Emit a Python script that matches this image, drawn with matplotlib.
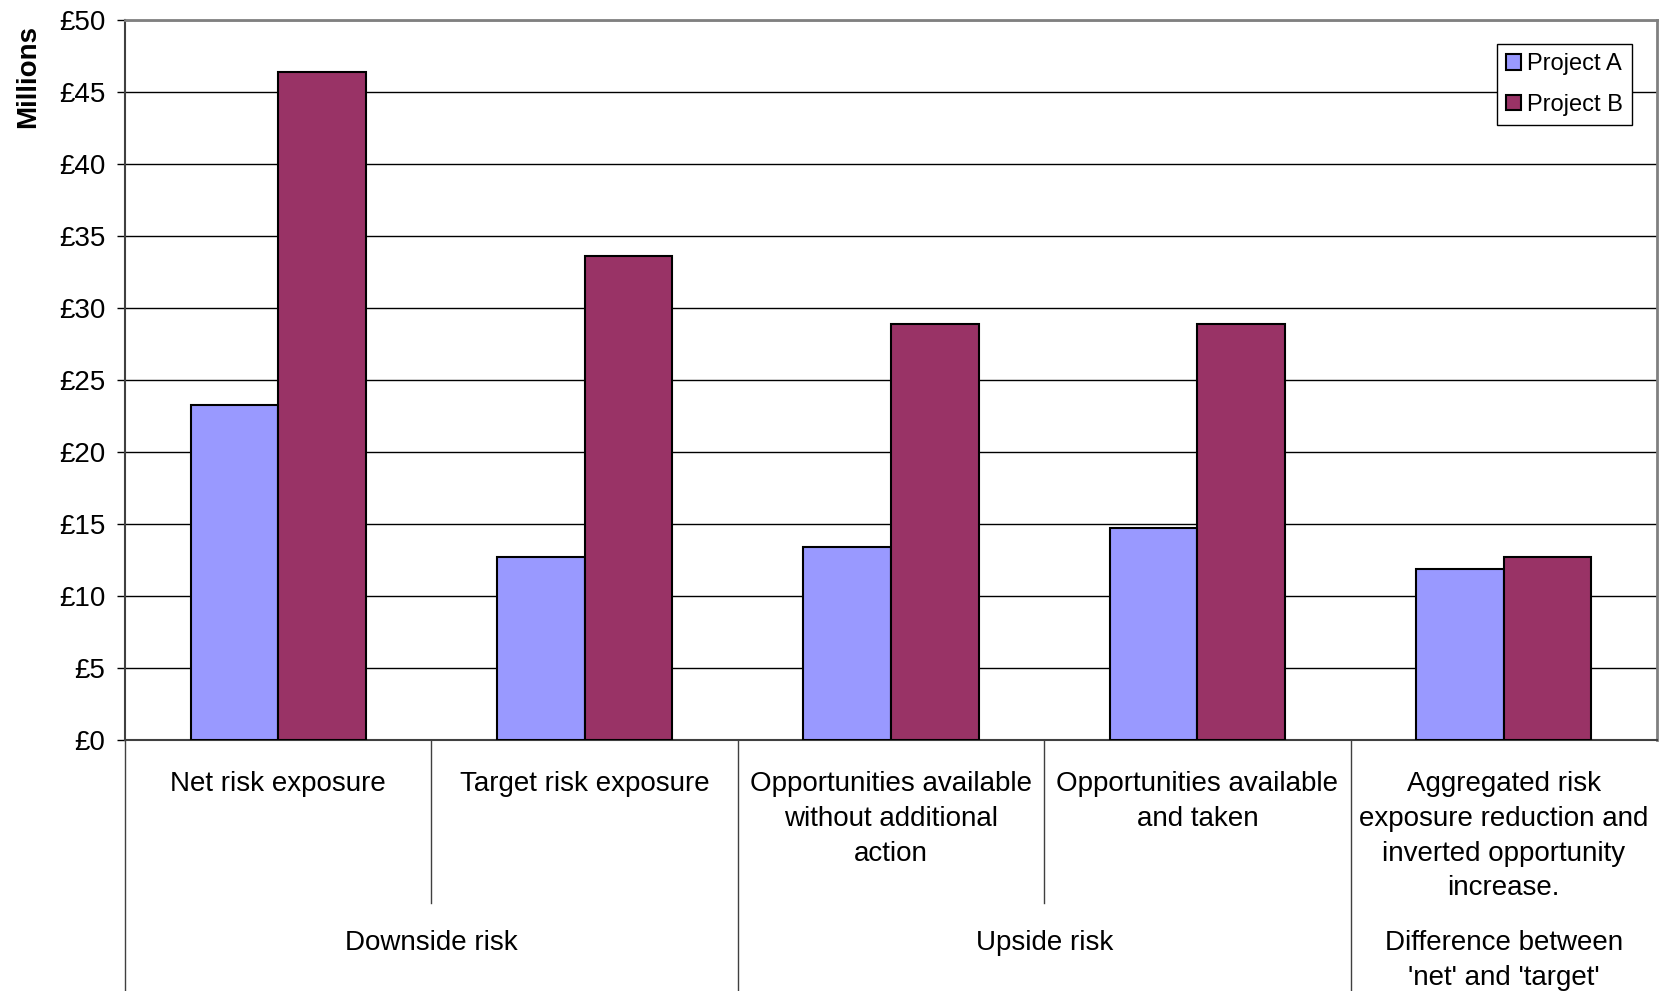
import matplotlib.pyplot as plt
import numpy as np

plt.rcParams['font.family'] = ['Liberation Sans', 'DejaVu Sans']

# Chart data (£ millions)
categories = ['Net risk exposure',
              'Target risk exposure',
              'Opportunities available\nwithout additional\naction',
              'Opportunities available\nand taken',
              'Aggregated risk\nexposure reduction and\ninverted opportunity\nincrease.']
groups = ['Downside risk', 'Upside risk', "Difference between\n'net' and 'target'"]
group_spans = [(0, 1), (2, 3), (4, 4)]
project_a = [23.25, 12.7, 13.4, 14.75, 11.85]
project_b = [46.4, 33.6, 28.9, 28.9, 12.7]
series_names = ['Project A', 'Project B']
yticks = [0, 5, 10, 15, 20, 25, 30, 35, 40, 45, 50]

W, H = 1661, 991
fig = plt.figure(figsize=(W / 100, H / 100), dpi=100)
ax = fig.add_axes([125 / W, (H - 740) / H, 1532 / W, 720 / H])

x = np.arange(len(categories))
width = 1 / 3.5
ax.bar(x - width / 2, project_a, width, color='#9999FF', edgecolor='black',
       linewidth=1.5, label=series_names[0], zorder=3)
ax.bar(x + width / 2, project_b, width, color='#993366', edgecolor='black',
       linewidth=1.5, label=series_names[1], zorder=3)

ax.set_xlim(-0.5, len(categories) - 0.5)
ax.set_ylim(0, 50)
ax.set_yticks(yticks)
ax.set_yticklabels(['£%d' % v for v in yticks], fontsize=20)
ax.tick_params(axis='y', direction='out', length=6, width=1, pad=8)
ax.set_xticks([])
ax.yaxis.grid(True, color='black', linewidth=1, zorder=0)

for side in ['top', 'right']:
    ax.spines[side].set_color('#808080')
    ax.spines[side].set_linewidth(2)
ax.spines['left'].set_color('#404040')
ax.spines['left'].set_linewidth(1.5)
ax.spines['bottom'].set_color('#404040')
ax.spines['bottom'].set_linewidth(1.5)

ax.set_ylabel('Millions', fontsize=20, fontweight='bold', labelpad=0)
ax.yaxis.set_label_coords(-84 / 1532, (740 - 76) / 720)

# multi-level category axis below the plot
trans = ax.get_xaxis_transform()
px = 1 / 720.0
inner_bottom = -(903 - 740) * px
outer_bottom = -(H - 740) * px
boundaries = np.arange(len(categories) + 1) - 0.5
group_edges = {-0.5, 1.5, 3.5}
for b in boundaries[:-1]:
    yb = outer_bottom if b in group_edges else inner_bottom
    ax.plot([b, b], [0, yb], transform=trans, color='#404040', lw=1,
            clip_on=False)

for xi, label in zip(x, categories):
    ax.text(xi, -(771 - 740) * px, label, transform=trans, ha='center',
            va='top', fontsize=20, linespacing=1.44)

for (g0, g1), label in zip(group_spans, groups):
    ax.text((g0 + g1) / 2, -(930 - 740) * px, label, transform=trans,
            ha='center', va='top', fontsize=20, linespacing=1.44)

leg = ax.legend(loc='upper right', bbox_to_anchor=(1632 / W, 1 - 44 / H),
                bbox_transform=fig.transFigure, fontsize=17, fancybox=False,
                framealpha=1, edgecolor='black', handlelength=0.65,
                handleheight=0.65, handletextpad=0.25, borderpad=0.38,
                labelspacing=0.8, borderaxespad=0)
leg.get_frame().set_linewidth(1)

fig.savefig('out.png', dpi=100)
